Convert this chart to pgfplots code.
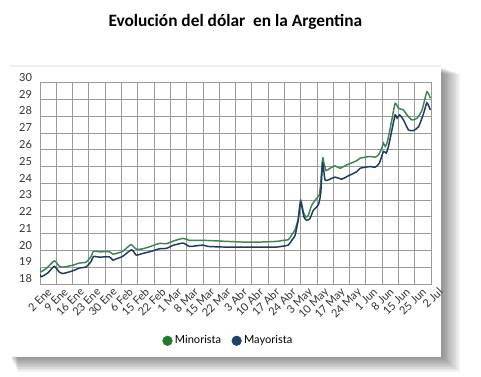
\documentclass[border=0pt]{standalone}
\usepackage{fontspec}
\setmainfont{Lato}
\newfontfamily\titlefont{Carlito}
\usepackage{pgfplots}
\pgfplotsset{compat=1.18}
\definecolor{mino}{HTML}{3F8452}
\definecolor{mayo}{HTML}{1E3A5A}
\definecolor{minoleg}{HTML}{1F7A2E}
\definecolor{mayoleg}{HTML}{1C4268}
\definecolor{gridc}{HTML}{9A9A9A}
\definecolor{lbl}{HTML}{333333}
\begin{document}
\begin{tikzpicture}
\path[use as bounding box] (0,0) rectangle (360.75pt,-282.75pt);
% panel shadow
\foreach \i in {1,...,10}{
  \fill[black, opacity=0.05] (7.5pt+\i*0.6pt,-50.25pt-\i*0.5pt) rectangle (330.75pt+\i*1.4pt,-267.75pt-\i*1.1pt);
}
\fill[black, opacity=0.06] (7.5pt,-49pt) rectangle (330.75pt,-50.25pt);
\fill[white] (7.5pt,-50.25pt) rectangle (330.75pt,-267.75pt);
\node[font=\titlefont\bfseries\fontsize{13}{15}\selectfont, text=black] at (176.5pt,-16.5pt) {Evolución del dólar\ \ en la Argentina};
\begin{axis}[
  scale only axis,
  width=293.25pt, height=151pt,
  at={(30pt,-213pt)}, anchor=south west,
  xmin=0, xmax=24, ymin=18, ymax=30,
  xtick={0,...,24},
  xticklabels={2 Ene,9 Ene,16 Ene,23 Ene,30 Ene,6 Feb,15 Feb,22 Feb,1 Mar,8 Mar,15 Mar,22 Mar,3 Abr,10 Abr,17 Abr,24 Abr,3 May,10 May,17 May,24 May,1 Jun,8 Jun,15 Jun,25 Jun,2 Jul},
  ytick={18,...,30},
  grid=major,
  grid style={gridc, line width=0.6pt},
  axis line style={gridc, line width=0.6pt},
  major tick length=0pt,
  tick label style={font=\fontsize{8.3}{10}\selectfont, text=lbl},
  /pgf/number format/assume math mode=true,
  yticklabel style={anchor=east, xshift=-2.5pt, yshift=4pt},
  xticklabel style={rotate=45, anchor=north east, xshift=3pt, yshift=-4pt, inner sep=1pt},
  legend style={at={(0.483,-0.282)}, anchor=center, draw=none, fill=none,
    legend columns=2, font=\fontsize{8.3}{10}\selectfont,
    /tikz/every even column/.append style={column sep=6pt}},
  legend cell align=left,
]
\addlegendimage{only marks, mark=*, mark size=3.6pt, color=minoleg}
\addlegendentry{Minorista}
\addlegendimage{only marks, mark=*, mark size=3.6pt, color=mayoleg}
\addlegendentry{Mayorista}
\addplot[mino, line width=1.1pt, smooth, tension=0.35, forget plot] coordinates {
(0,18.95)(0.06,18.72)(0.47,19.0)(0.88,19.38)(1.19,19.05)(1.39,19.0)(2.0,19.12)(2.42,19.25)(2.83,19.3)(3.14,19.65)(3.28,19.95)(3.65,19.92)(4.26,19.92)(4.47,19.78)(4.68,19.82)(5.08,19.95)(5.50,20.3)(5.62,20.34)(5.91,20.08)(6.22,20.08)(6.73,20.22)(7.34,20.42)(7.75,20.4)(8.16,20.55)(8.78,20.72)(9.19,20.6)(10.0,20.6)(10.62,20.58)(11.45,20.54)(12.47,20.5)(13.5,20.5)(14.52,20.54)(14.93,20.6)(15.24,20.64)(15.45,20.93)(15.65,21.22)(15.85,21.9)(16.0,23.0)(16.16,22.3)(16.33,21.99)(16.47,22.1)(16.68,22.7)(16.98,23.1)(17.14,23.3)(17.23,24.0)(17.35,25.5)(17.43,25.2)(17.56,24.76)(17.80,24.9)(18.11,25.04)(18.42,24.9)(18.83,25.1)(19.45,25.35)(19.65,25.5)(20.26,25.6)(20.57,25.56)(20.78,25.7)(20.98,26.1)(21.08,26.4)(21.19,26.2)(21.33,26.5)(21.60,27.8)(21.80,28.77)(22.01,28.47)(22.31,28.37)(22.52,28.08)(22.83,27.78)(23.14,27.88)(23.45,28.37)(23.75,29.46)(23.96,29.07)
};
\addplot[mayo, line width=1.1pt, smooth, tension=0.35, forget plot] coordinates {
(0,18.6)(0.06,18.43)(0.47,18.65)(0.88,19.05)(1.19,18.7)(1.39,18.62)(2.0,18.78)(2.42,18.95)(2.83,19.02)(3.14,19.35)(3.28,19.64)(3.65,19.6)(4.26,19.62)(4.47,19.42)(4.68,19.5)(5.08,19.65)(5.62,20.04)(5.91,19.72)(6.22,19.8)(6.73,19.92)(7.34,20.1)(7.75,20.12)(8.16,20.3)(8.78,20.44)(9.19,20.24)(10.0,20.32)(10.29,20.24)(11.45,20.2)(13.5,20.2)(14.52,20.2)(14.93,20.26)(15.24,20.32)(15.45,20.6)(15.65,20.88)(15.85,21.8)(16.0,22.9)(16.2,22.0)(16.37,21.8)(16.57,21.9)(16.78,22.4)(17.08,22.7)(17.23,23.4)(17.35,25.2)(17.50,24.2)(17.80,24.25)(18.11,24.37)(18.52,24.25)(18.83,24.4)(19.45,24.7)(19.65,24.9)(20.26,25.0)(20.57,24.96)(20.83,25.2)(21.08,25.9)(21.25,25.8)(21.39,26.2)(21.60,27.18)(21.80,28.08)(21.92,27.88)(22.07,28.08)(22.31,27.78)(22.62,27.18)(22.93,27.15)(23.24,27.38)(23.55,28.18)(23.75,28.8)(23.96,28.37)
};
\end{axis}
\end{tikzpicture}
\end{document}
